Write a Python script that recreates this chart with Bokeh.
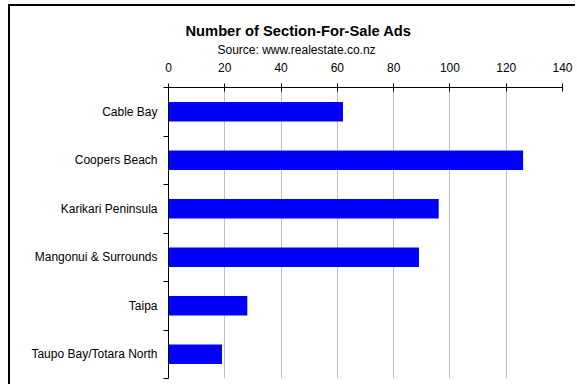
from bokeh.plotting import figure
from bokeh.models import Range1d, LinearAxis, FixedTicker, Title
from bokeh.embed import file_html
from bokeh.resources import INLINE

categories = ["Cable Bay", "Coopers Beach", "Karikari Peninsula",
              "Mangonui & Surrounds", "Taipa", "Taupo Bay/Totara North"]
ads = [62, 126, 96, 89, 28, 19]
x_ticks = [0, 20, 40, 60, 80, 100, 120, 140]
title_text = "Number of Section-For-Sale Ads"
subtitle_text = "Source: www.realestate.co.nz"

FONT = "Liberation Sans"

n = len(categories)
centers = [i + 0.5 for i in range(n)]
bounds = list(range(n + 1))

p = figure(width=565, height=378,
           y_range=Range1d(n, 0), x_range=Range1d(0, 140),
           x_axis_location="above", y_axis_location=None,
           output_backend="svg", toolbar_location=None,
           min_border_left=158, min_border_right=15,
           min_border_top=81, min_border_bottom=8)

p.background_fill_color = "white"
p.border_fill_color = "white"
p.outline_line_color = None

p.hbar(y=centers, right=ads, left=0, height=0.4,
       fill_color="#0000FF", line_color=None)

# x axis on top
xa = p.xaxis[0]
xa.ticker = FixedTicker(ticks=x_ticks)
xa.minor_tick_line_color = None
xa.major_tick_in = 4
xa.major_tick_out = 4
xa.major_tick_line_color = "black"
xa.axis_line_color = "black"
xa.major_label_text_font = FONT
xa.major_label_text_font_size = "12px"
xa.major_label_text_color = "black"
xa.major_label_standoff = 12

p.xgrid.grid_line_color = "#c0c0c0"
p.xgrid.grid_line_width = 1
p.ygrid.visible = False

# boundary tick axis (next to the frame)
ta = LinearAxis(ticker=FixedTicker(ticks=bounds),
                major_label_overrides={b: "" for b in bounds})
ta.major_tick_in = 0
ta.major_tick_out = 5
ta.minor_tick_line_color = None
ta.major_label_standoff = 0
ta.major_label_text_font_size = "1px"
ta.axis_line_color = "black"
ta.major_tick_line_color = "black"

# category label axis
ca = LinearAxis(ticker=FixedTicker(ticks=centers),
                major_label_overrides={c: name for c, name in zip(centers, categories)})
ca.axis_line_color = None
ca.major_tick_line_color = None
ca.minor_tick_line_color = None
ca.major_tick_in = 0
ca.major_tick_out = 0
ca.major_label_text_font = FONT
ca.major_label_text_font_size = "12px"
ca.major_label_text_color = "black"
ca.major_label_standoff = 6

p.left = [ta, ca]

p.add_layout(Title(text=subtitle_text, align="left", offset=49,
                   text_font=FONT, text_font_size="12px",
                   text_font_style="normal", text_color="black", standoff=5), "above")
p.add_layout(Title(text=title_text, align="left", offset=17,
                   text_font=FONT, text_font_size="14.7px",
                   text_font_style="bold", text_color="black", standoff=0), "above")

p.styles = {"margin-left": "8px", "margin-top": "4px",
            "box-sizing": "content-box",
            "border-style": "solid", "border-color": "black",
            "border-width": "2px 0px 0px 2px"}

open("out.html", "w").write(file_html(p, INLINE))
